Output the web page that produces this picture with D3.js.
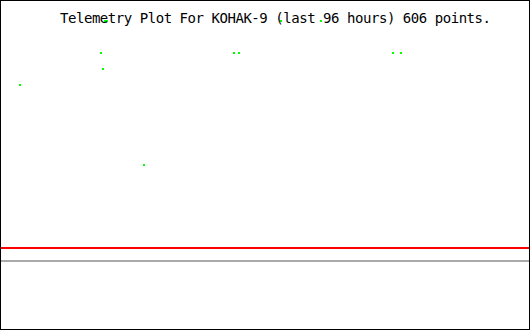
<!DOCTYPE html>
<html>
<head>
<meta charset="utf-8">
<script src="https://cdn.jsdelivr.net/npm/d3@7"></script>
<style>
  html, body { margin: 0; padding: 0; background: #fff; }
  svg { display: block; }
</style>
</head>
<body>
<div id="chart"></div>
<script>
// hours ago -> value, scattered telemetry samples
const pointHours  = [3.4, 18.2, 18.5, 18.9, 19.3, 26.0, 42.4, 43.3, 50.9, 58.2, 71.3, 72.7];
const pointValues = [74.4, 84.1, 79.3, 93.9, 93.9, 50.0, 84.1, 84.1, 93.9, 93.9, 84.1, 84.1];

// flat traces across the whole window
const traceHours = [0, 96];
const redValues  = [24.7, 24.7];
const grayValues = [20.7, 20.7];

const title = "Telemetry Plot For KOHAK-9 (last 96 hours) 606 points.";

const width = 530, height = 330;

const svg = d3.select("#chart").append("svg")
    .attr("width", width)
    .attr("height", height);

const x = d3.scaleLinear().domain([0, 96]).range([1, 529]);
const y = d3.scaleLinear().domain([0, 100]).range([329, 1]);

svg.append("rect")
    .attr("width", width)
    .attr("height", height)
    .attr("fill", "#fff");

const line = d3.line()
    .x(d => x(d[0]))
    .y(d => y(d[1]));

svg.append("path")
    .datum(d3.zip(traceHours, grayValues))
    .attr("d", line)
    .attr("fill", "none")
    .attr("stroke", "#aaaaaa")
    .attr("stroke-width", 2);

svg.append("path")
    .datum(d3.zip(traceHours, redValues))
    .attr("d", line)
    .attr("fill", "none")
    .attr("stroke", "#ff0000")
    .attr("stroke-width", 2);

svg.selectAll("rect.pt")
    .data(d3.zip(pointHours, pointValues))
    .join("rect")
    .attr("class", "pt")
    .attr("x", d => Math.round(x(d[0])) - 1)
    .attr("y", d => Math.round(y(d[1])) - 1)
    .attr("width", 2)
    .attr("height", 2)
    .attr("fill", "#00ff00");

svg.append("text")
    .attr("x", 60)
    .attr("y", 22.5)
    .attr("font-family", "DejaVu Sans Mono, monospace")
    .attr("font-size", 14)
    .attr("textLength", 431)
    .attr("lengthAdjust", "spacing")
    .attr("fill", "#000")
    .text(title);

// frame
svg.append("rect")
    .attr("x", 0.5)
    .attr("y", 0.5)
    .attr("width", width - 1)
    .attr("height", height - 1)
    .attr("fill", "none")
    .attr("stroke", "#000")
    .attr("stroke-width", 1);
</script>
</body>
</html>
